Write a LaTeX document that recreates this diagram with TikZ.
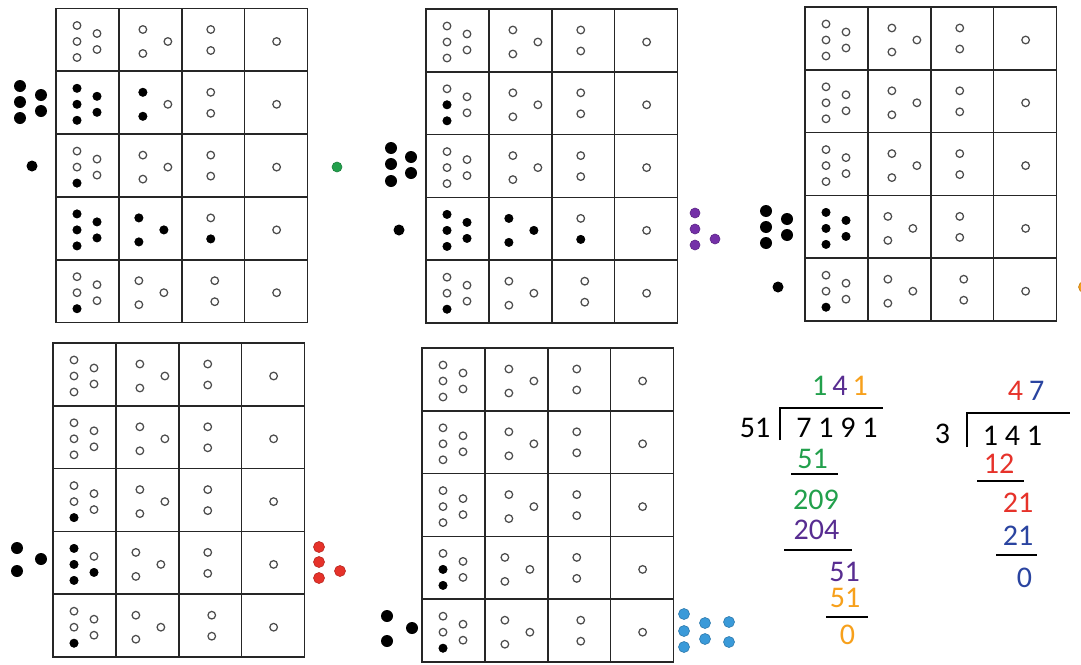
\documentclass[tikz,border=0pt]{standalone}
\usepackage{fontspec}
\setmainfont{Carlito}
\definecolor{ggreen}{RGB}{34,160,76}
\definecolor{gpurple}{RGB}{88,45,145}
\definecolor{dpurple}{RGB}{116,48,168}
\definecolor{gorange}{RGB}{247,160,27}
\definecolor{gred}{RGB}{230,50,42}
\definecolor{gblue}{RGB}{42,68,160}
\definecolor{dblue}{RGB}{58,154,217}
\tikzset{
  gridline/.style={draw=black!85, line width=1.7pt},
  opendot/.style={draw=black!70, line width=1.25pt, fill=white},
  fulldot/.style={fill=black},
  bigdot/.style={fill=black},
  colordot/.style={fill=#1, draw=#1!80!black, line width=0.6pt},
  num/.style={inner sep=0pt, font=\fontsize{30}{36}\selectfont},
  rulebar/.style={line width=2.8pt, black},
}
\newcommand\dotgrid[3]{%
  \begin{scope}[shift={(#2,#3)}]
    \draw[gridline] (0,0) rectangle (251.5,314);
    \foreach \i in {1,2,3} \draw[gridline] (\i*62.875,0) -- (\i*62.875,314);
    \foreach \j in {1,2,3,4} \draw[gridline] (0,\j*62.8) -- (251.5,\j*62.8);
    \foreach \r in {1,...,5} {
      \pgfmathsetmacro\ty{(\r-1)*62.8}
      \pgfmathsetmacro\sb{\r>3 ? -4 : 0}
      \pgfmathsetmacro\sc{\r==5 ? 4 : 0}
      \coordinate (#1-\r-L1) at (21,\ty+17);
      \coordinate (#1-\r-L2) at (21,\ty+33);
      \coordinate (#1-\r-L3) at (21,\ty+49);
      \coordinate (#1-\r-R1) at (41,\ty+25);
      \coordinate (#1-\r-R2) at (41,\ty+41);
      \coordinate (#1-\r-A) at (62.875+24+\sb,\ty+21);
      \coordinate (#1-\r-B) at (62.875+24+\sb,\ty+45);
      \coordinate (#1-\r-C) at (62.875+49+\sb,\ty+33);
      \coordinate (#1-\r-T) at (125.75+29+\sc,\ty+21);
      \coordinate (#1-\r-U) at (125.75+29+\sc,\ty+42);
      \coordinate (#1-\r-S) at (188.625+32,\ty+33);
      \foreach \d in {L1,L2,L3,R1,R2,A,B,C,T,U,S}
        \draw[opendot] (#1-\r-\d) circle[radius=3.8];
    }
  \end{scope}}
\newcommand\filldots[1]{\foreach \p in {#1} \fill[fulldot] (\p) circle[radius=4.4];}
\begin{document}
\begin{tikzpicture}[x=1pt,y=-1pt]
\useasboundingbox (0,0) rectangle (1081,664);
\clip (0,0) rectangle (1081,664);
\fill[white] (0,0) rectangle (1081,664);

% ---------- grids ----------
\dotgrid{ga}{56}{8.5}
\dotgrid{gb}{426}{9}
\dotgrid{gc}{805}{7}
\dotgrid{gd}{53}{343}
\dotgrid{ge}{422}{348}

\filldots{ga-2-L1,ga-2-L2,ga-2-L3,ga-2-R1,ga-2-R2,ga-2-A,ga-2-B,ga-3-L3,
  ga-4-L1,ga-4-L2,ga-4-L3,ga-4-R1,ga-4-R2,ga-4-A,ga-4-B,ga-4-C,ga-4-U,ga-5-L3}
\filldots{gb-2-L2,gb-2-L3,
  gb-4-L1,gb-4-L2,gb-4-L3,gb-4-R1,gb-4-R2,gb-4-A,gb-4-B,gb-4-C,gb-4-U,gb-5-L3}
\filldots{gc-4-L1,gc-4-L2,gc-4-L3,gc-4-R1,gc-4-R2,gc-5-L3}
\filldots{gd-3-L3,gd-4-L1,gd-4-L2,gd-4-L3,gd-4-R2,gd-5-L3}
\filldots{ge-4-L2,ge-4-L3,ge-5-L3}

% ---------- outside dots ----------
% grid a
\foreach \p in {(20,86),(20,102),(20,118),(41,95),(41,111)} \fill[bigdot] \p circle[radius=6];
\fill[bigdot] (32,166) circle[radius=5.5];
\filldraw[colordot=ggreen] (337,167) circle[radius=5];
% grid b
\foreach \p in {(391,148),(391,164),(391,181),(411,157),(411,173)} \fill[bigdot] \p circle[radius=6];
\fill[bigdot] (399,230) circle[radius=5.5];
\foreach \p in {(695,213),(695,229),(695,245),(715,239)} \filldraw[colordot=dpurple] \p circle[radius=5];
% grid c
\foreach \p in {(766,211),(766,227),(766,243),(787,219),(787,235)} \fill[bigdot] \p circle[radius=6];
\fill[bigdot] (778,287) circle[radius=5.5];
\filldraw[colordot=gorange] (1084,287) circle[radius=5.5];
% grid d
\foreach \p in {(17,548),(17,571),(41,559)} \fill[bigdot] \p circle[radius=6];
\foreach \p in {(319,547),(319,562),(319,578),(340,571)} \filldraw[colordot=gred] \p circle[radius=5.5];
% grid e
\foreach \p in {(387,616),(387,641),(412,628)} \fill[bigdot] \p circle[radius=6];
\foreach \p in {(684,614),(684,631),(684,647),(705,623),(705,639),(729,622),(729,642)}
  \filldraw[colordot=dblue] \p circle[radius=5.5];

% ---------- division 7191 : 51 ----------
\node[num] (q1) at (840,385.5) {\textcolor{ggreen}{1}\hspace{5pt}\textcolor{gpurple}{4}\hspace{5pt}\textcolor{gorange}{1}};
\node[num] (d1) at (755,428) {51};
\node[num] (n1) at (837,428) {7 1 9 1};
\coordinate (b1t) at (780,408);
\coordinate (b1b) at (780,440);
\coordinate (b1r) at (883,408);
\draw[rulebar] (b1b) -- (b1t) -- (b1r);
\node[num, ggreen] (s1) at (812.5,458.5) {51};
\coordinate (u1a) at (791,474); \coordinate (u1b) at (838,474);
\draw[rulebar] (u1a) -- (u1b);
\node[num, ggreen] (r1) at (816,499.5) {209};
\node[num, gpurple] (s2) at (816.5,529.5) {204};
\coordinate (u2a) at (784,550); \coordinate (u2b) at (852,550);
\draw[rulebar] (u2a) -- (u2b);
\node[num, gpurple] (r2) at (844.5,571.5) {51};
\node[num, gorange] (s3) at (845,598) {51};
\coordinate (u3a) at (826,617); \coordinate (u3b) at (868,617);
\draw[rulebar] (u3a) -- (u3b);
\node[num, gorange] (r3) at (847.5,635) {0};

% ---------- division 141 : 3 ----------
\node[num] (q2) at (1026,391) {\textcolor{gred}{4}\hspace{6pt}\textcolor{gblue}{7}};
\node[num] (d2) at (942.5,434) {3};
\node[num] (n2) at (1012.5,436) {1 4 1};
\coordinate (b2t) at (967,413);
\coordinate (b2b) at (967,447);
\coordinate (b2r) at (1070,413);
\draw[rulebar] (b2b) -- (b2t) -- (b2r);
\node[num, gred] (t1) at (999,464) {12};
\coordinate (v1a) at (977,481); \coordinate (v1b) at (1024,481);
\draw[rulebar] (v1a) -- (v1b);
\node[num, gred] (w1) at (1018,503) {21};
\node[num, gblue] (t2) at (1018,536) {21};
\coordinate (v2a) at (996,555); \coordinate (v2b) at (1037,555);
\draw[rulebar] (v2a) -- (v2b);
\node[num, gblue] (w2) at (1024.5,577.5) {0};
\end{tikzpicture}
\end{document}
